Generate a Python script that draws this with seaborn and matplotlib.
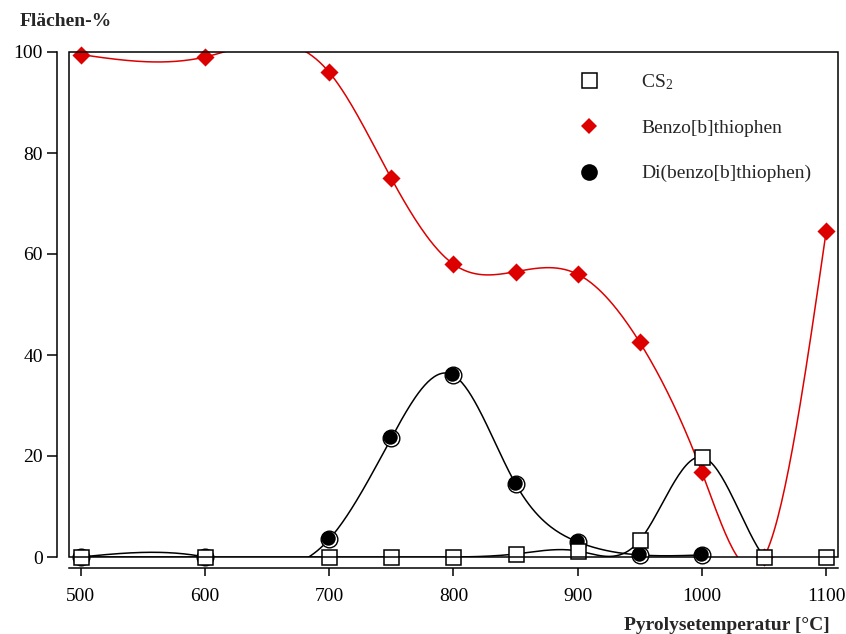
import numpy as np
import pandas as pd
import matplotlib
matplotlib.use("Agg")
import matplotlib.pyplot as plt
import matplotlib.transforms as mtransforms
from matplotlib.lines import Line2D
from matplotlib.patches import Rectangle
import seaborn as sns

# ---------------- data ----------------
temps_cs2 = [500, 600, 700, 750, 800, 850, 900, 950, 1000, 1050, 1100]
cs2 = [0, 0, 0, 0, 0, 0.6, 1.2, 3.3, 19.8, 0, 0]

temps_bt = [500, 600, 700, 750, 800, 850, 900, 950, 1000, 1050, 1100]
benzothiophen = [99.5, 99.0, 96.0, 75.0, 58.0, 56.5, 56.0, 42.5, 16.8, 0, 64.5]

temps_dbt = [500, 600, 700, 750, 800, 850, 900, 950, 1000]
dibenzothiophen = [0, 0, 3.5, 23.5, 36.0, 14.5, 3.0, 0.4, 0.4]

x_ticks = [500, 600, 700, 800, 900, 1000, 1100]
y_ticks = [0, 20, 40, 60, 80, 100]

labels = ["CS$_2$", "Benzo[b]thiophen", "Di(benzo[b]thiophen)"]
RED = "#dd0000"


def natural_spline(x, y, n=400):
    x = np.asarray(x, float)
    y = np.asarray(y, float)
    h = np.diff(x)
    m = len(x)
    A = np.zeros((m, m))
    b = np.zeros(m)
    A[0, 0] = 1
    A[-1, -1] = 1
    for i in range(1, m - 1):
        A[i, i - 1] = h[i - 1]
        A[i, i] = 2 * (h[i - 1] + h[i])
        A[i, i + 1] = h[i]
        b[i] = 6 * ((y[i + 1] - y[i]) / h[i] - (y[i] - y[i - 1]) / h[i - 1])
    M = np.linalg.solve(A, b)
    xs = np.linspace(x[0], x[-1], n)
    idx = np.clip(np.searchsorted(x, xs) - 1, 0, m - 2)
    x0, x1 = x[idx], x[idx + 1]
    hh = x1 - x0
    t0 = x1 - xs
    t1 = xs - x0
    ys = (M[idx] * t0 ** 3 / (6 * hh) + M[idx + 1] * t1 ** 3 / (6 * hh)
          + (y[idx] / hh - M[idx] * hh / 6) * t0
          + (y[idx + 1] / hh - M[idx + 1] * hh / 6) * t1)
    return xs, ys


# ---------------- style ----------------
sns.set_theme(style="white")
plt.rcParams["font.family"] = ["Liberation Serif", "DejaVu Serif"]
plt.rcParams["mathtext.fontset"] = "custom"
plt.rcParams["mathtext.rm"] = "Liberation Serif"
plt.rcParams["mathtext.it"] = "Liberation Serif"

FS = 14
W, H = 846, 634
fig = plt.figure(figsize=(W / 100, H / 100), dpi=100)
ax = fig.add_axes([69 / W, 1 - 557 / H, (838 - 69) / W, (557 - 52) / H])
ax.set_xlim(490.7, 1109.5)
ax.set_ylim(0, 100)

LW = 1.1

# smooth curves
for xx, yy, col in [(temps_cs2, cs2, "black"),
                    (temps_bt, benzothiophen, RED),
                    (temps_dbt, dibenzothiophen, "black")]:
    xs, ys = natural_spline(xx, yy)
    df = pd.DataFrame({"x": xs, "y": ys})
    sns.lineplot(data=df, x="x", y="y", ax=ax, color=col, lw=LW,
                 sort=False, estimator=None, zorder=2)

# markers
df_bt = pd.DataFrame({"x": temps_bt, "y": benzothiophen})
sns.scatterplot(data=df_bt, x="x", y="y", ax=ax, marker="D", s=85,
                color=RED, edgecolor=RED, linewidth=0, zorder=4, clip_on=False)

df_dbt = pd.DataFrame({"x": temps_dbt, "y": dibenzothiophen})
ax.plot(df_dbt["x"], df_dbt["y"], ls="none", marker="o", ms=12,
        mfc="white", mec="black", mew=1.0, zorder=5, clip_on=False)
off = mtransforms.offset_copy(ax.transData, fig=fig, x=-1.0, y=1.0, units="dots")
ax.plot(df_dbt["x"], df_dbt["y"], ls="none", marker="o", ms=10.4,
        mfc="black", mec="black", mew=0, zorder=6, clip_on=False, transform=off)

df_cs2 = pd.DataFrame({"x": temps_cs2, "y": cs2})
ax.plot(df_cs2["x"], df_cs2["y"], ls="none", marker="s", ms=10.8,
        mfc="white", mec="black", mew=1.1, zorder=7, clip_on=False)

# frame box
ax.add_patch(Rectangle((0, 0), 1, 1, transform=ax.transAxes, fill=False,
                       lw=1.1, edgecolor="black", zorder=8, clip_on=False))

# offset axes spines
for s in ["top", "right"]:
    ax.spines[s].set_visible(False)
ax.spines["left"].set_position(("outward", 8.6))
ax.spines["bottom"].set_position(("outward", 8.0))
for s in ["left", "bottom"]:
    ax.spines[s].set_color("black")
    ax.spines[s].set_linewidth(1.1)

ax.set_xticks(x_ticks)
ax.set_yticks(y_ticks)
ax.set_xticklabels([str(v) for v in x_ticks])
ax.set_yticklabels([str(v) for v in y_ticks])
ax.tick_params(axis="both", labelsize=FS, colors="black", width=1.1)
ax.tick_params(axis="y", length=7.2, pad=3, direction="out", left=True)
ax.tick_params(axis="x", length=5.5, pad=9, direction="out", bottom=True)
ax.set_xlabel("")
ax.set_ylabel("")
ax.grid(False)

# legend
handles = [
    Line2D([], [], ls="none", marker="s", ms=10.8, mfc="white", mec="black", mew=1.1),
    Line2D([], [], ls="none", marker="D", ms=8.2, mfc=RED, mec=RED, mew=0),
    Line2D([], [], ls="none", marker="o", ms=12, mfc="black", mec="black", mew=0),
]
leg = ax.legend(handles, labels, loc="upper left",
                bbox_to_anchor=(573 / W, 1 - 66 / H), bbox_transform=fig.transFigure,
                frameon=False, fontsize=FS, handlelength=1.0,
                handletextpad=2.22, labelspacing=1.43, borderaxespad=0, borderpad=0.3)

fig.text(20 / W, 1 - 22 / H, "Flächen-%", fontsize=FS, fontweight="bold",
         ha="left", va="center")
fig.text(830 / W, 1 - 625 / H, "Pyrolysetemperatur [°C]", fontsize=FS,
         fontweight="bold", ha="right", va="center")

fig.savefig("out.png", dpi=100)
